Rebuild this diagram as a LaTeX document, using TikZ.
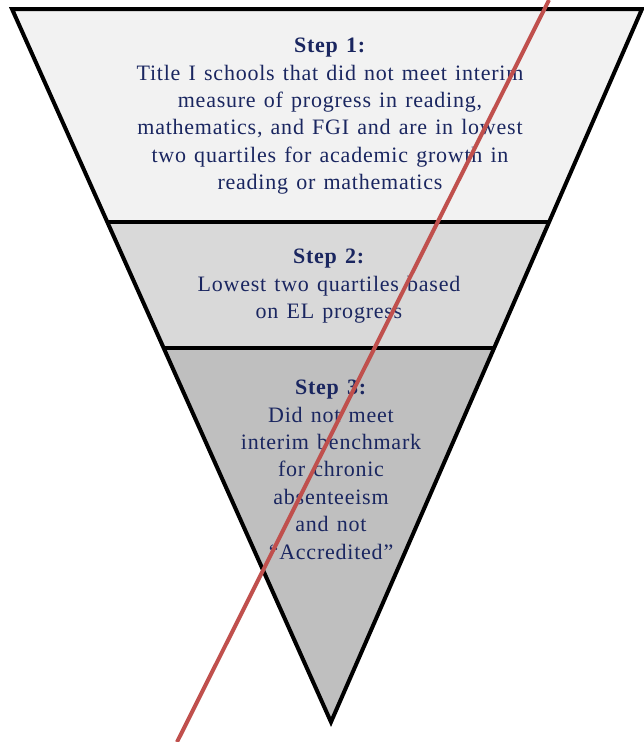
\documentclass[tikz,border=0pt]{standalone}
\usepackage{fontspec}
\setmainfont{Liberation Serif}[LetterSpace=3.5,WordSpace={1.3}]
\definecolor{bandA}{HTML}{F2F2F2}
\definecolor{bandB}{HTML}{D9D9D9}
\definecolor{bandC}{HTML}{BFBFBF}
\definecolor{txt}{HTML}{1A2660}
\definecolor{slash}{HTML}{C0504D}
\begin{document}
\begin{tikzpicture}[x=1pt,y=-1pt,
  band/.style={draw=black,line width=4pt,line join=miter},
  lbl/.style={text=txt,align=center,font=\fontsize{22}{27.4}\selectfont,inner sep=0pt}]
\useasboundingbox (0,0) rectangle (644,742);
\coordinate (tl) at (12,9);
\coordinate (tr) at (642,9);
\coordinate (m1l) at (107,222);
\coordinate (m1r) at (549,222);
\coordinate (m2l) at (164,348);
\coordinate (m2r) at (494,348);
\coordinate (apex) at (331,722);
\fill[bandA] (tl) -- (tr) -- (m1r) -- (m1l) -- cycle;
\fill[bandB] (m1l) -- (m1r) -- (m2r) -- (m2l) -- cycle;
\fill[bandC] (m2l) -- (m2r) -- (apex) -- cycle;
\draw[band] (m1l) -- (m1r);
\draw[band] (m2l) -- (m2r);
\draw[band] (tl) -- (tr) -- (apex) -- cycle;
\node[lbl,anchor=north] (s1) at (330,38) {\textbf{Step 1:}\\Title I schools that did not meet interim\\measure of progress in reading,\\mathematics, and FGI and are in lowest\\two quartiles for academic growth in\\reading or mathematics};
\node[lbl,anchor=north] (s2) at (329,249) {\textbf{Step 2:}\\Lowest two quartiles based\\on EL progress};
\node[lbl,anchor=north] (s3) at (331,380) {\textbf{Step 3:}\\Did not meet\\interim benchmark\\for chronic\\absenteeism\\and not\\“Accredited”};
\coordinate (ra) at (549,0);
\coordinate (rb) at (177,742);
\draw[slash,line width=4pt] (ra) -- (rb);
\end{tikzpicture}
\end{document}
